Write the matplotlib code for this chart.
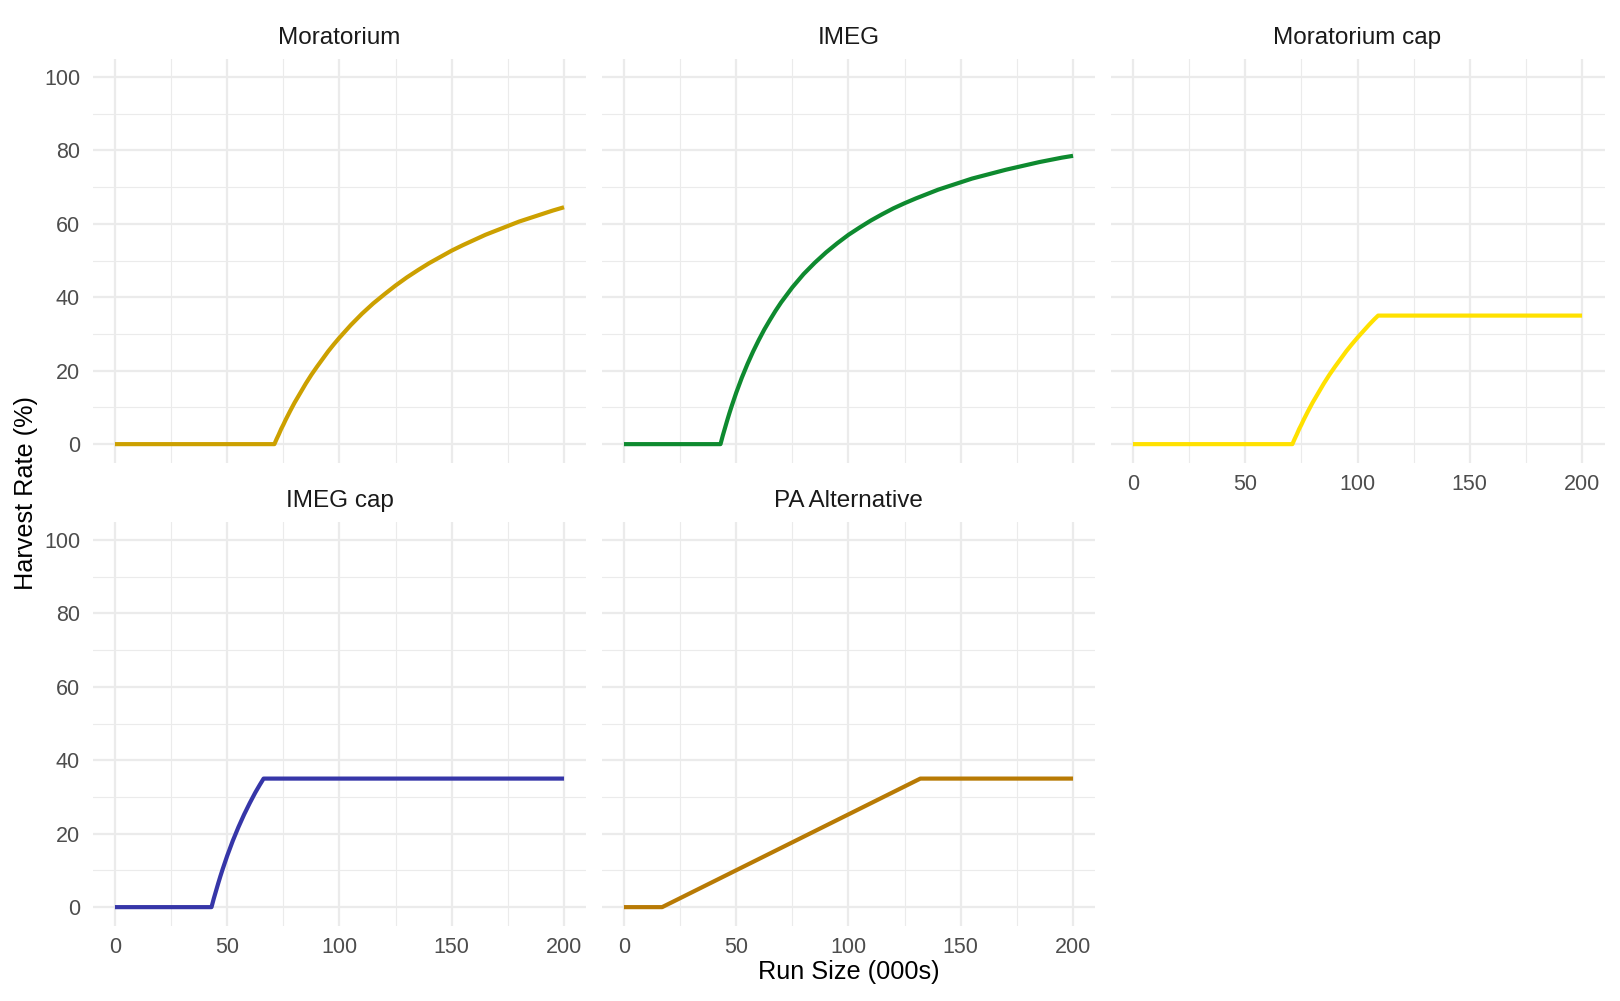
import matplotlib
import matplotlib.pyplot as plt
from matplotlib.ticker import MultipleLocator
matplotlib.use('Agg')

# harvest control rules
# run size in thousands of fish, harvest rate in percent
panel_names = ['Moratorium', 'IMEG', 'Moratorium cap', 'IMEG cap', 'PA Alternative']
line_colors = ['#CCA000', '#0E8A2F', '#FFE100', '#3636A8', '#B87A04']

moratorium_x = [0, 71, 72, 73, 74, 75, 76, 77, 78, 80, 82.5, 85, 87.5, 90, 92.5,
                95, 97.5, 100, 105, 110, 115, 120, 125, 130, 135, 140, 145,
                150, 155, 160, 165, 170, 175, 180, 185, 190, 195, 200]
moratorium_y = [0, 0, 1.4, 2.7, 4.1, 5.3, 6.6, 7.8, 9.0, 11.3, 13.9, 16.5, 18.9,
                21.1, 23.2, 25.3, 27.2, 29.0, 32.4, 35.5, 38.3, 40.8, 43.2,
                45.4, 47.4, 49.3, 51.0, 52.7, 54.2, 55.6, 57.0, 58.2, 59.4,
                60.6, 61.6, 62.6, 63.6, 64.5]

imeg_x = [0, 43, 44, 45, 46, 47, 48, 49, 50, 52.5, 55, 57.5, 60, 62.5, 65,
          67.5, 70, 75, 80, 85, 90, 95, 100, 105, 110, 115, 120, 125, 130,
          135, 140, 145, 150, 155, 160, 165, 170, 175, 180, 185, 190, 195, 200]
imeg_y = [0, 0, 2.3, 4.4, 6.5, 8.5, 10.4, 12.2, 14.0, 18.1, 21.8, 25.2, 28.3,
          31.2, 33.8, 36.3, 38.6, 42.7, 46.3, 49.4, 52.2, 54.7, 57.0, 59.0,
          60.9, 62.6, 64.2, 65.6, 66.9, 68.1, 69.3, 70.3, 71.3, 72.3, 73.1,
          73.9, 74.7, 75.4, 76.1, 76.8, 77.4, 78.0, 78.5]

moratorium_cap_x = [0, 71, 72, 73, 74, 75, 76, 77, 78, 80, 82.5, 85, 87.5, 90,
                    92.5, 95, 97.5, 100, 102.5, 105, 107.5, 109.2, 200]
moratorium_cap_y = [0, 0, 1.4, 2.7, 4.1, 5.3, 6.6, 7.8, 9.0, 11.3, 13.9, 16.5,
                    18.9, 21.1, 23.2, 25.3, 27.2, 29.0, 30.7, 32.4, 34.0, 35, 35]

imeg_cap_x = [0, 43, 44, 45, 46, 47, 48, 49, 50, 52.5, 55, 57.5, 60, 62.5,
              64.5, 66.2, 200]
imeg_cap_y = [0, 0, 2.3, 4.4, 6.5, 8.5, 10.4, 12.2, 14.0, 18.1, 21.8, 25.2,
              28.3, 31.2, 33.3, 35, 35]

pa_x = [0, 17, 132, 200]
pa_y = [0, 0, 35, 35]

x_ticks = [0, 50, 100, 150, 200]
y_ticks = [0, 20, 40, 60, 80, 100]


def main():
    plt.rcParams['font.family'] = ['Liberation Sans', 'DejaVu Sans']

    series = [(moratorium_x, moratorium_y), (imeg_x, imeg_y),
              (moratorium_cap_x, moratorium_cap_y), (imeg_cap_x, imeg_cap_y),
              (pa_x, pa_y)]

    W, H = 1620, 1001
    fig = plt.figure(figsize=(W / 100, H / 100), dpi=100)

    # panel boxes in pixels (left, top), each 494 x 404
    pw, ph = 494, 404
    lefts = [92.5, 601.5, 1110.5]
    tops = [58.5, 521.5]

    for i, name in enumerate(panel_names):
        row, col = divmod(i, 3)
        left = lefts[col]
        top = tops[row]
        ax = fig.add_axes([left / W, 1 - (top + ph) / H, pw / W, ph / H])

        xs, ys = series[i]
        ax.plot(xs, ys, color=line_colors[i], linewidth=3.0,
                solid_joinstyle='round', solid_capstyle='butt', zorder=3)

        ax.set_xlim(-10, 210)
        ax.set_ylim(-5, 105)
        ax.set_xticks(x_ticks)
        ax.set_yticks(y_ticks)
        ax.xaxis.set_minor_locator(MultipleLocator(25))
        ax.yaxis.set_minor_locator(MultipleLocator(10))
        ax.grid(True, which='major', color='#EBEBEB', linewidth=1.6)
        ax.grid(True, which='minor', color='#EBEBEB', linewidth=0.8)
        ax.set_axisbelow(True)
        for s in ax.spines.values():
            s.set_visible(False)
        ax.tick_params(which='both', length=0, colors='#4D4D4D',
                       labelsize=15.5)
        ax.tick_params(axis='x', pad=8)
        ax.tick_params(axis='y', pad=9)

        # x labels only where no panel sits below, y labels on the first column
        if i > 1:
            ax.set_xticklabels([str(t) for t in x_ticks])
        else:
            ax.set_xticklabels([])
        if col == 0:
            ax.set_yticklabels([str(t) for t in y_ticks])
        else:
            ax.set_yticklabels([])

        ax.text(0.5, 1 + 14.5 / ph, name, transform=ax.transAxes,
                ha='center', va='baseline', fontsize=17.5, color='#1A1A1A')

    fig.text(849 / W, 1 - 972 / H, 'Run Size (000s)', ha='center',
             va='center', fontsize=18.2, color='black')
    fig.text(26 / W, 1 - 493 / H, 'Harvest Rate (%)', ha='center',
             va='center', rotation=90, fontsize=18.2, color='black')

    plt.savefig('out.png', dpi=100, facecolor='white')


if __name__ == '__main__':
    main()
